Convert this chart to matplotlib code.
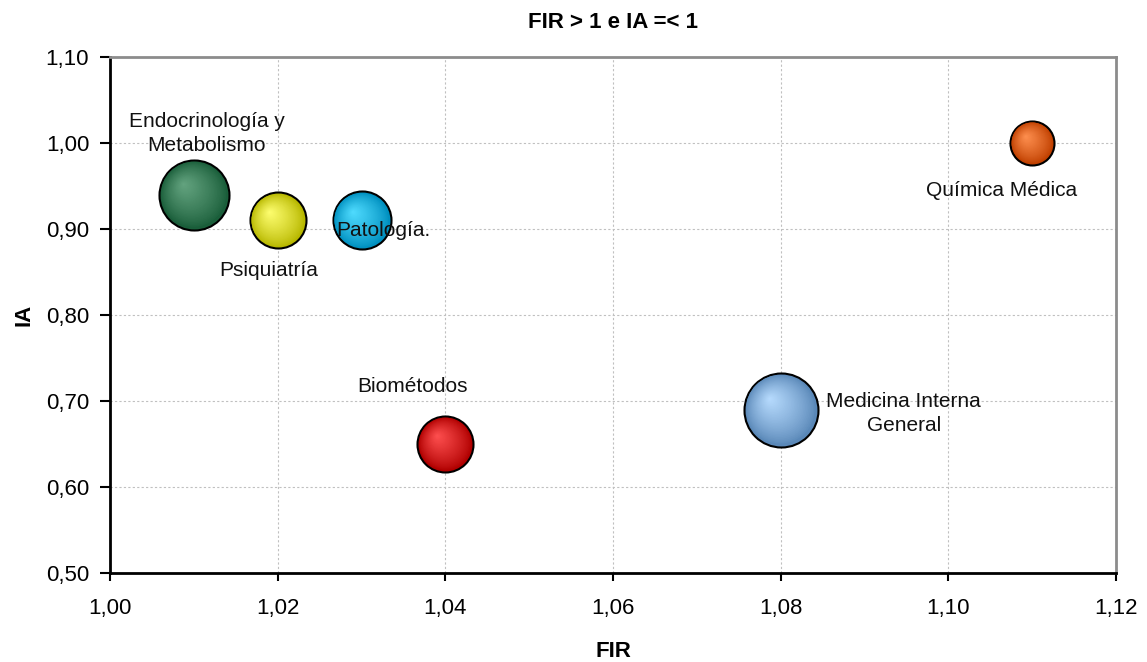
import matplotlib
matplotlib.use("Agg")
import matplotlib.pyplot as plt
import matplotlib.transforms as mtransforms
import numpy as np
from matplotlib.colors import to_rgb

plt.rcParams['font.family'] = ['Liberation Sans', 'DejaVu Sans']

# ---- data ----
servicios = ["Endocrinología y\nMetabolismo", "Psiquiatría", "Patología.",
             "Biométodos", "Medicina Interna\nGeneral", "Química Médica"]
fir = [1.01, 1.02, 1.03, 1.04, 1.08, 1.11]
ia = [0.94, 0.91, 0.91, 0.65, 0.69, 1.00]
tamano = [1225, 784, 841, 784, 1369, 484]
edge_cols = ["#1a5e3a", "#b8b800", "#0090c0", "#b00000", "#5a88b8", "#c04000"]
center_cols = ["#64a480", "#ffff70", "#50dcff", "#ff5050", "#b8dcff", "#ff9050"]
label_offsets = [(13, 61), (-9, -50), (22, -10), (-33, 57), (123, -4), (-31, -48)]

x_ticks = [1.00, 1.02, 1.04, 1.06, 1.08, 1.10, 1.12]
y_ticks = [0.50, 0.60, 0.70, 0.80, 0.90, 1.00, 1.10]

fig = plt.figure(figsize=(11.47, 6.62), dpi=100)
ax = fig.add_axes([110 / 1147, 1 - 573 / 662, (1116 - 110) / 1147, (573 - 57) / 662])

ax.set_xlim(1.00, 1.12)
ax.set_ylim(0.50, 1.10)
ax.set_xticks(x_ticks)
ax.set_yticks(y_ticks)
ax.set_xticklabels([f"{v:.2f}".replace(".", ",") for v in x_ticks], fontsize=16)
ax.set_yticklabels([f"{v:.2f}".replace(".", ",") for v in y_ticks], fontsize=16)
ax.tick_params(axis="x", direction="out", length=6, width=1.5, color="black", pad=12)
ax.tick_params(axis="y", direction="out", length=7, width=1.5, color="black", pad=8)
ax.grid(True, color="#c0c0c0", linestyle=(0, (2, 2)), linewidth=0.8)
ax.set_axisbelow(True)
for s in ["left", "bottom"]:
    ax.spines[s].set_color("black")
    ax.spines[s].set_linewidth(2)
for s in ["top", "right"]:
    ax.spines[s].set_color("#8c8c8c")
    ax.spines[s].set_linewidth(2)

scale = (2 * 72 / 100) ** 2
n_layers = 30
for i in range(len(fir)):
    s0 = tamano[i] * scale
    ax.scatter([fir[i]], [ia[i]], s=s0, color=edge_cols[i], edgecolors="black",
               linewidths=1.5, zorder=3)
    e = np.array(to_rgb(edge_cols[i]))
    c = np.array(to_rgb(center_cols[i]))
    r_pt = np.sqrt(s0) / 2
    for k in range(1, n_layers):
        t = k / n_layers
        frac = 1 - t
        col = e + (c - e) * t ** 0.8
        off = mtransforms.offset_copy(ax.transData, fig=fig,
                                      x=-0.3 * r_pt * t, y=0.3 * r_pt * t, units="points")
        ax.scatter([fir[i]], [ia[i]], s=s0 * 0.92 * frac ** 2, color=col,
                   edgecolors="none", transform=off, zorder=3 + k * 0.01)
    ax.annotate(servicios[i], (fir[i], ia[i]), xytext=label_offsets[i],
                textcoords="offset pixels", ha="center", va="center",
                fontsize=15, color="#111111", zorder=10, linespacing=1.35)

ax.set_title("FIR > 1 e IA =< 1", fontsize=16, fontweight="bold", pad=21)
ax.set_xlabel("FIR", fontsize=16, fontweight="bold", labelpad=16)
ax.set_ylabel("IA", fontsize=16, fontweight="bold", labelpad=8)

fig.savefig("out.png", dpi=100)
